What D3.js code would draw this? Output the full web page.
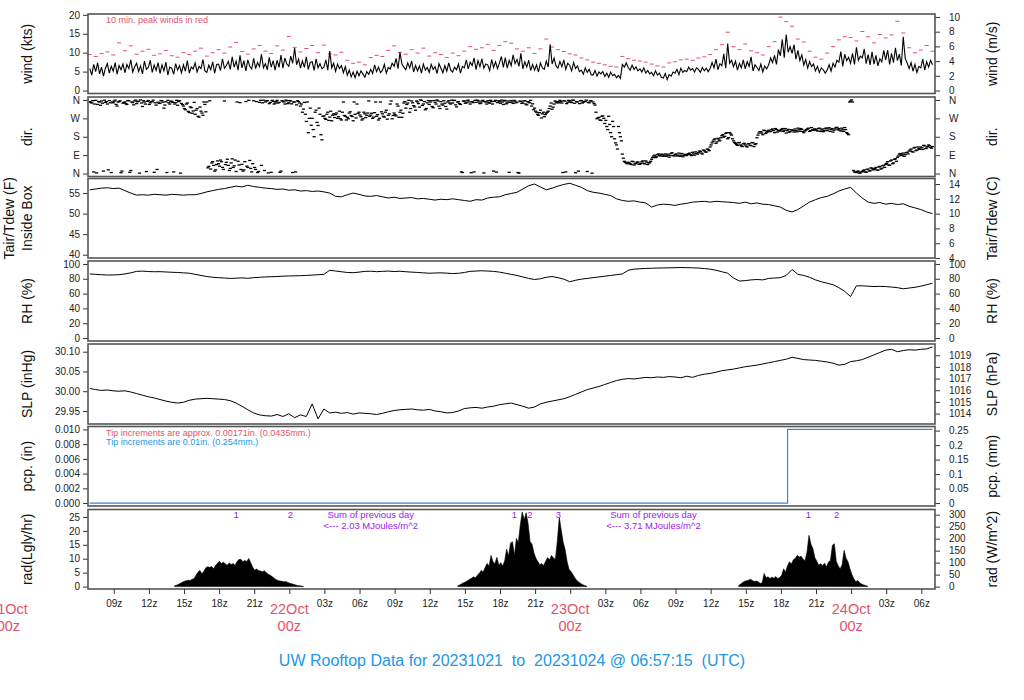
<!DOCTYPE html>
<html>
<head>
<meta charset="utf-8">
<script src="https://cdn.jsdelivr.net/npm/d3@7"></script>
<style>
  body { margin: 0; background: #fff; }
  svg text { font-family: "Liberation Sans", Arial, Helvetica, sans-serif; }
</style>
</head>
<body>
<div id="chart"></div>
<script>
// first sample 2023-10-21 06:57:15 UTC, 10-min and 30-min records
const startTime = Date.UTC(2023, 9, 21, 6, 57, 15);
const day0 = Date.UTC(2023, 9, 21, 0, 0, 0);

// wind speed (kts), every 10 min
const windKts = [
  5.8,4.1,6.9,5.0,7.3,4.4, 6.2,3.8,5.9,7.1,4.6,6.4, 5.1,7.4,4.3,6.6,5.5,7.0, 4.7,6.9,5.8,8.1,4.9,6.3,
  7.2,5.0,6.5,4.4,7.8,5.6, 6.1,8.0,4.8,6.7,5.3,7.4, 4.5,6.8,5.2,7.5,4.1,6.2, 5.9,4.3,7.1,5.4,6.6,4.7,
  6.8,5.1,7.9,4.6,6.2,5.7, 7.3,4.9,6.4,5.8,8.2,5.2, 4.8,6.7,5.5,7.6,4.6,6.9, 7.0,5.3,8.4,5.9,6.6,7.7,
  5.6,8.9,6.2,7.8,5.4,9.3, 6.0,7.9,5.2,8.1,6.4,5.7, 8.5,5.8,7.4,6.3,9.6,6.0, 7.1,5.5,8.8,6.2,7.9,5.4,
  8.0,6.1,9.4,5.9,8.6,7.0, 6.4,9.1,7.2,11.2,6.8,8.3, 5.9,7.8,6.1,8.9,5.6,7.4, 7.6,5.3,8.4,6.0,7.1,5.8,
  6.2,8.1,5.4,10.4,6.0,7.2, 5.1,7.0,5.8,6.6,4.7,6.3, 4.0,5.4,3.6,4.9,3.4,5.1, 3.9,5.2,4.4,3.5,5.0,4.3,
  5.6,4.5,6.8,5.0,6.2,4.7, 5.3,6.9,4.6,6.1,5.7,7.2, 6.4,8.5,5.8,10.1,7.0,6.2, 5.5,7.3,6.0,7.8,4.9,6.6,
  5.2,6.5,4.6,7.0,5.4,6.1, 4.8,6.9,5.6,6.3,4.5,7.1, 5.9,4.7,6.6,5.1,7.3,5.4, 4.9,6.2,5.5,7.0,4.6,6.4,
  6.0,8.1,5.7,7.5,6.6,8.6, 5.5,7.9,6.3,8.4,5.9,7.0, 6.8,5.3,8.2,6.1,7.6,5.8, 7.3,9.0,6.1,8.7,5.9,8.0,
  6.6,9.4,7.1,8.2,6.4,9.8, 5.7,7.6,6.2,8.0,5.3,6.9, 5.4,6.8,4.9,7.3,6.0,5.6, 7.8,6.2,12.2,7.0,8.6,6.5,
  5.9,7.7,6.3,8.1,5.6,7.2, 6.7,5.2,7.4,5.8,6.5,5.0, 5.4,4.3,6.0,4.8,5.6,4.2, 4.1,5.3,3.8,4.9,4.4,5.0,
  3.7,4.6,3.5,4.9,3.9,4.3, 3.4,4.0,3.2,6.9,6.2,7.3, 6.1,5.4,6.7,5.6,6.3,5.2, 5.7,4.9,6.0,4.6,5.3,4.4,
  4.8,3.9,5.2,4.1,4.6,3.5, 3.3,4.5,2.9,4.2,3.8,4.9, 4.6,5.6,4.2,5.9,4.8,5.3, 5.0,6.2,5.4,5.8,4.9,6.0,
  5.6,4.8,6.1,5.2,5.9,5.0, 5.8,7.4,6.0,8.3,5.5,7.1, 6.6,9.7,5.9,12.4,7.2,8.0, 6.3,7.8,5.4,7.2,6.0,8.1,
  5.7,7.6,6.4,8.9,5.2,6.8, 6.1,5.3,7.0,4.9,6.5,5.7, 6.8,8.6,7.4,9.3,6.9,10.8, 9.2,13.5,8.7,14.8,10.1,11.6,
  9.8,12.1,8.3,10.6,7.9,9.4, 6.7,8.2,5.9,7.6,6.3,7.0, 5.2,6.4,4.8,6.0,5.5,4.6, 5.4,6.8,5.1,7.2,6.2,8.0,
  7.5,10.3,6.4,9.6,7.9,8.8, 7.2,9.8,6.9,11.4,8.0,9.1, 8.6,11.0,7.1,9.5,6.8,10.2, 7.0,9.3,6.5,8.4,7.6,10.6,
  8.1,10.7,6.9,9.8,7.4,11.3, 7.9,9.6,6.6,14.2,8.5,7.3, 5.8,7.4,5.1,6.9,4.8,6.4, 6.0,8.3,5.4,7.6,6.2,8.0,
  6.8
];

// 10 min. peak wind (kts), every 30 min
const windPeakKts = [
  9.5,9.0, 9.8,10.2, 9.4,12.6, 10.5,11.8, 9.6,10.4, 10.9,9.3, 9.7,10.6, 9.2,8.8,
  10.0,9.5, 10.4,11.2, 9.1,10.0, 10.8,9.9, 11.5,12.7, 10.3,9.6, 11.0,11.9, 10.4,9.8,
  11.8,10.7, 14.3,11.4, 10.2,11.1, 11.9,10.0, 12.0,9.7, 9.4,10.1, 8.0,7.2, 7.5,6.8,
  8.7,9.3, 9.0,10.6, 11.8,10.1, 9.6,10.8, 9.9,11.2, 9.1,10.0, 9.5,8.7, 9.9,9.2,
  10.4,11.6, 10.9,11.3, 12.2,10.6, 11.9,12.9, 12.5,11.0, 10.4,11.3, 9.8,11.0, 13.6,11.5,
  10.8,10.3, 9.7,9.4, 8.6,8.1, 7.5,7.2, 6.8,6.4, 6.2,9.0, 8.4,8.0, 7.8,7.5,
  7.0,6.5, 6.2,7.3, 7.6,8.1, 8.3,8.0, 8.6,8.9, 9.5,10.8, 12.1,15.4, 11.6,10.8,
  12.3,10.5, 10.0,9.4, 11.6,12.9, 19.4,18.2, 17.0,13.6, 12.8,10.4, 8.8,8.3, 9.9,11.6,
  13.4,14.2, 14.0,13.1, 15.6,14.2, 12.6,14.8, 13.9,14.7, 18.3,15.2, 11.3,10.0, 10.7,11.9,
  10.4
];

// wind direction (deg, 0 = N), every 10 min
const windDirDeg = [
  352,345,8,358,338,350, 355,12,348,340,357,5, 346,359,330,352,4,344, 350,338,356,15,347,355,
  342,354,360,328,350,10, 357,346,352,6,335,349, 344,356,320,351,358,340, 353,8,347,334,356,343,
  330,312,345,298,322,306, 290,318,276,305,285,338, 350,35,22,58,12,44, 48,66,30,355,55,40,
  25,72,38,10,60,347, 45,18,352,30,64,8, 356,20,5,348,40,359, 350,357,342,6,353,345,
  358,348,12,354,340,356, 346,355,5,350,336,352, 330,300,348,255,200,320, 270,180,310,235,290,165,
  282,265,300,276,258,292, 288,270,305,262,350,280, 275,296,284,258,290,340, 300,278,268,292,285,355,
  286,270,298,280,262,350, 292,276,310,285,340,268, 296,282,330,300,275,345, 320,345,300,355,332,310,
  350,325,358,340,312,346, 338,356,322,348,360,330, 352,335,344,315,356,340, 345,358,326,351,338,5,
  355,346,359,340,352,8, 348,357,342,354,3,350, 356,344,352,12,358,347, 351,359,338,355,346,6,
  357,343,354,349,2,352, 345,356,336,350,358,341, 320,300,285,310,292,278, 295,305,330,315,340,350,
  352,358,345,356,8,349, 355,347,358,4,350,342, 357,349,353,10,346,356, 350,335,268,275,260,282,
  245,230,280,200,255,170, 140,230,180,95,60,52, 55,48,60,42,50,57, 46,58,50,62,44,53,
  70,85,78,92,88,95, 84,96,90,80,98,88, 92,86,100,90,82,94, 88,97,92,104,90,99,
  102,108,96,112,105,118, 130,150,165,148,172,160, 185,178,196,170,200,188, 160,148,138,152,135,145,
  140,130,146,136,150,142, 175,198,205,190,210,202, 212,206,218,200,215,209, 208,220,212,198,216,205,
  214,203,210,222,207,216, 200,212,218,206,225,211, 217,208,222,213,205,219, 210,224,215,203,218,226,
  220,208,214,225,200,190, 355,350,8,5,12,3, 10,18,6,22,14,25, 20,30,16,35,26,40,
  45,58,40,66,52,72, 80,95,88,100,92,104, 110,120,105,128,115,122, 130,118,135,125,140,128,
  132
];

// wind direction (deg), the samples 5 min after each of the above
const windDirDegB = [
  348,356,340,3,352,334, 344,359,352,18,346,350, 354,338,350,356,12,348, 342,357,6,350,336,359,
  351,2,345,356,340,353, 338,352,359,346,20,343, 357,349,335,5,346,354, 348,340,358,352,2,337,
  318,340,304,326,295,348, 310,280,325,296,350,302, 28,356,52,40,18,62, 36,58,20,44,70,15,
  52,30,66,350,42,20, 12,58,36,358,25,48, 30,352,10,358,346,15, 355,3,348,358,340,352,
  345,6,356,350,359,342, 357,341,350,8,356,345, 340,315,290,350,270,236, 215,300,250,320,190,280,
  270,290,260,305,285,274, 296,278,268,300,284,262, 268,302,279,350,272,294, 286,262,300,274,296,280,
  295,276,350,288,270,302, 280,300,266,292,355,284, 288,340,275,310,295,352, 338,358,318,346,326,355,
  342,360,333,352,318,357, 350,328,357,340,355,318, 340,356,328,350,345,359, 357,336,350,342,8,354,
  344,356,350,4,347,358, 359,350,345,358,352,340, 348,358,340,353,7,356, 344,350,358,341,355,348,
  350,358,346,5,355,343, 356,340,352,346,330,312, 305,290,298,272,300,288, 300,318,345,325,355,346,
  346,352,5,355,342,358, 350,359,344,352,12,356, 345,352,359,348,355,2, 342,300,272,262,280,270,
  260,215,240,180,230,150, 120,200,160,75,55,48, 52,44,58,48,55,45, 50,62,47,56,52,60,
  78,90,82,96,86,92, 90,84,95,88,102,86, 96,90,84,98,88,92, 94,100,88,96,106,95,
  110,100,115,106,120,112, 140,158,170,155,165,175, 190,182,200,176,194,170, 152,142,150,140,132,148,
  134,145,138,152,132,146, 188,205,198,212,196,206, 205,214,210,220,203,212, 215,206,220,210,202,214,
  210,218,204,214,220,206, 208,216,222,210,214,218, 212,220,206,218,210,223, 218,206,220,212,224,214,
  212,222,206,215,195,350, 360,15,6,10,2,8, 14,8,20,12,28,18, 25,18,32,22,38,30,
  50,42,62,48,70,60, 86,98,92,84,102,96, 115,108,125,112,130,118, 126,138,122,132,136,124
];

// air temperature inside box (F), every 30 min
const tairF = [
  55.8,56.0, 56.2,56.3, 56.1,56.2, 55.6,55.0, 54.5,54.6, 54.5,54.7, 54.6,54.5, 54.7,54.6,
  54.5,54.6, 54.6,54.9, 55.3,55.6, 55.9,56.1, 56.4,56.7, 56.5,56.9, 56.6,56.4, 56.2,56.1,
  55.9,56.0, 55.7,55.8, 55.5,55.6, 55.4,55.5, 55.3,55.0, 54.2,54.1, 54.6,55.0, 54.7,54.3,
  54.2,54.4, 54.1,53.8, 54.0,53.7, 53.8,53.9, 53.6,53.7, 53.5,53.3, 53.5,53.4, 53.6,53.4,
  53.2,53.0, 53.4,53.3, 53.8,54.0, 54.1,54.6, 54.9,55.2, 56.0,56.8, 57.2,56.5, 55.8,56.2,
  56.7,57.1, 57.4,56.9, 56.4,55.6, 55.2,55.0, 54.7,54.4, 53.6,53.2, 53.0,53.1, 52.8,52.6,
  51.6,52.1, 52.3,52.2, 52.0,52.3, 52.5,52.8, 52.9,53.0, 52.8,53.0, 52.9,52.8, 52.7,52.5,
  52.8,52.4, 52.6,52.3, 52.2,51.9, 51.6,50.8, 50.4,51.0, 51.9,52.8, 53.4,53.9, 54.2,54.8,
  55.5,56.0, 56.4,55.0, 53.8,52.8, 52.5,52.7, 52.3,52.5, 52.2,52.4, 51.8,51.4, 51.0,50.4,
  50.0
];

// relative humidity (%), every 30 min
const rhPct = [
  86.5,86.0, 85.5,85.0, 85.2,85.5, 86.5,88.0, 90.0,90.3, 89.8,89.5, 89.6,89.2, 88.8,88.5,
  88.0,87.5, 86.0,84.5, 83.0,82.0, 81.5,81.0, 80.5,80.8, 81.2,80.6, 81.5,82.0, 82.5,82.8,
  83.0,83.5, 83.8,84.0, 84.2,84.5, 85.0,85.5, 86.0,91.5, 90.5,89.5, 88.5,88.2, 89.0,90.0,
  90.2,89.6, 90.0,90.4, 89.8,90.2, 89.5,89.0, 88.5,88.0, 87.5,87.8, 88.0,87.6, 87.0,87.4,
  88.5,90.0, 90.5,90.8, 90.4,90.0, 89.0,87.5, 86.0,84.5, 82.5,80.5, 79.0,80.0, 82.0,83.0,
  81.5,79.5, 76.0,78.0, 79.5,80.5, 81.5,82.5, 83.5,84.5, 85.5,86.5, 91.5,93.0, 93.5,94.0,
  94.2,94.5, 94.6,94.8, 95.0,95.2, 95.0,94.8, 94.5,93.8, 93.0,91.5, 89.5,87.5, 81.0,77.0,
  77.5,78.5, 79.0,78.5, 80.5,81.0, 81.5,84.5, 92.5,86.0, 84.5,82.0, 78.5,76.0, 74.0,72.0,
  68.0,63.0, 56.0,70.5, 70.5,70.0, 69.5,69.8, 69.5,68.8, 68.0,66.5, 67.5,68.5, 70.0,72.0,
  74.0
];

// sea level pressure (inHg), every 30 min
const slpInHg = [
  30.007,30.004, 30.002,30.003, 30.001,30.000, 30.001,29.998, 29.994,29.990, 29.986,29.983, 29.979,29.975, 29.972,29.970,
  29.972,29.977, 29.980,29.981, 29.982,29.981, 29.980,29.979, 29.976,29.970, 29.962,29.953, 29.945,29.940, 29.938,29.937,
  29.941,29.936, 29.943,29.933, 29.940,29.936, 29.968,29.930, 29.955,29.945, 29.947,29.944, 29.946,29.942, 29.945,29.944,
  29.943,29.941, 29.944,29.948, 29.951,29.953, 29.954,29.955, 29.953,29.952, 29.954,29.950, 29.948,29.945, 29.946,29.950,
  29.956,29.958, 29.959,29.957, 29.960,29.962, 29.966,29.968, 29.970,29.966, 29.962,29.957, 29.960,29.968, 29.972,29.975,
  29.978,29.981, 29.986,29.992, 29.998,30.004, 30.008,30.012, 30.017,30.022, 30.027,30.030, 30.032,30.031, 30.033,30.035,
  30.034,30.036, 30.035,30.037, 30.036,30.034, 30.038,30.035, 30.040,30.043, 30.045,30.048, 30.052,30.054, 30.056,30.059,
  30.062,30.064, 30.066,30.069, 30.072,30.075, 30.078,30.081, 30.086,30.083, 30.080,30.079, 30.078,30.076, 30.074,30.071,
  30.066,30.068, 30.075,30.077, 30.080,30.086, 30.092,30.098, 30.104,30.106, 30.100,30.103, 30.105,30.104, 30.106,30.107,
  30.112
];

// accumulated precipitation (in), hours after 21Oct 00z
const pcpHours = [6.95, 66.57, 78.95];
const pcpIn = [0, 0.01, 0.01];

// solar radiation (Lgly/hr), 10-min values for each daylight period
const radStartHours = [14.2, 38.4, 62.4];
const radDay1 = [
  0.3,0.5,0.8,1.2,1.6,1.9, 2.1,2.3,2.2,2.6,2.9,4.1, 5.2,5.8,4.6,5.5,6.8,7.1, 6.9,7.2,6.4,7.6,8.4,9.1,
  8.2,8.8,8.1,7.7,8.5,7.9, 8.3,7.6,9.0,9.7,9.8,8.9, 9.4,9.0,10.1,8.6,7.0,5.9, 6.3,5.8,5.6,5.3,5.7,5.0,
  4.4,4.1,3.6,3.0,2.5,2.2, 2.0,1.9,1.7,1.8,1.5,1.2, 1.0,0.8,0.6,0.4,0.3,0.2,0.1
];
const radDay2 = [
  0.3,0.6,1.0,1.4,1.7,2.1, 2.6,3.0,3.5,3.2,4.1,4.8, 5.8,5.2,6.9,8.3,7.4,11.2, 9.0,8.2,10.5,7.7,8.6,7.4,
  9.2,13.4,11.0,15.6,16.1,11.2, 17.3,15.8,22.1,26.8,24.0,26.5, 22.6,16.2,15.3,12.1,10.2,9.0,
  7.8,8.3,7.6,9.1,10.4,9.6, 11.2,10.3,9.8,16.4,24.9,20.2, 15.9,13.2,9.0,6.2,5.4,4.3, 3.1,2.2,1.6,1.1,0.7,0.4,0.2
];
const radDay3 = [
  0.4,0.9,1.5,1.9,2.1,2.3, 2.6,2.2,1.8,2.0,1.7,1.1, 1.4,4.7,3.2,3.5,2.9,3.4, 3.0,3.6,2.9,3.3,4.1,6.4,
  5.2,7.5,8.9,8.1,9.6,10.2, 11.2,10.6,10.9,9.8,9.3,12.5, 18.4,15.2,13.7,10.4,9.1,7.7, 8.2,7.6,8.4,7.1,8.8,9.4,
  14.8,15.4,9.0,7.5,6.3,7.9, 13.0,10.2,8.9,6.4,4.3,2.8, 1.7,2.2,1.4,0.9,0.6,0.4,0.2
];
const radMarkHours = [19.45, 24.09, 43.24, 44.55, 47.0, 68.34, 70.76];
const radMarkLabels = ["1", "2", "1", "2", "3", "1", "2"];
const radSumHours = [30.96, 55.12];
const radSumLabels = ["<--- 2.03 MJoules/m^2", "<--- 3.71 MJoules/m^2"];

// axis tick values
const windTicks = [0, 5, 10, 15, 20];
const windMsTicks = [0, 2, 4, 6, 8, 10];
const dirTicks = [0, 90, 180, 270, 360];
const dirNames = ["N", "E", "S", "W", "N"];
const tempTicks = [40, 45, 50, 55];
const tempCTicks = [4, 6, 8, 10, 12, 14];
const rhTicks = [0, 20, 40, 60, 80, 100];
const slpTicks = [29.95, 30.00, 30.05, 30.10];
const slpHpaTicks = [1014, 1015, 1016, 1017, 1018, 1019];
const pcpTicks = [0, 0.002, 0.004, 0.006, 0.008, 0.010];
const pcpMmTicks = [0, 0.05, 0.1, 0.15, 0.2, 0.25];
const radTicks = [0, 5, 10, 15, 20, 25];
const radWTicks = [0, 50, 100, 150, 200, 250, 300];

const red = "#DF536B", blue = "#2297E6", purple = "#A020F0";

const svg = d3.select("#chart").append("svg")
    .attr("width", 1024)
    .attr("height", 700)
    .attr("viewBox", [0, 0, 1024, 700]);

const x = d3.scaleUtc()
    .domain([new Date(Date.UTC(2023, 9, 21, 6, 48)), new Date(Date.UTC(2023, 9, 24, 7, 10))])
    .range([88, 935]);

const t10 = i => new Date(startTime + i * 600e3);
const t10b = i => new Date(startTime + 300e3 + i * 600e3);
const t30 = i => new Date(startTime + i * 1800e3);
const atHour = h => new Date(day0 + h * 3600e3);

const panelTop = [14, 97, 178.5, 261, 344, 426.5, 509.5];
const panelBottom = [93.5, 176.5, 258, 341, 424, 506, 589];

const yScale = (k, domain) => d3.scaleLinear().domain(domain).range([panelBottom[k], panelTop[k]]);

const yWind = yScale(0, [-0.78, 20.22]);
const yDir = yScale(1, [-14.4, 374.4]);
const yTemp = yScale(2, [39.2, 58.55]);
const yRh = yScale(3, [-4, 104]);
const ySlp = yScale(4, [29.917, 30.1195]);
const yPcp = yScale(5, [-0.0004, 0.0104]);
const yRad = yScale(6, [-0.86, 27.66]);

// same panels in the other units for the right-hand axes
const conv = (s, f) => s.copy().domain(s.domain().map(f));
const yWindMs = conv(yWind, v => v / 1.94384);
const yTempC = conv(yTemp, v => (v - 32) * 5 / 9);
const ySlpHpa = conv(ySlp, v => v * 33.8639);
const yPcpMm = conv(yPcp, v => v * 25.4);
const yRadW = conv(yRad, v => v * 11.622);

function styleAxis(g) {
  g.select(".domain").remove();
  g.attr("font-size", 10).attr("font-family", null);
  g.selectAll(".tick line").attr("stroke", "#333");
  g.selectAll(".tick text").attr("fill", "#222");
}

function axes(left, leftTicks, leftFmt, right, rightTicks, rightFmt) {
  svg.append("g")
      .attr("transform", "translate(88,0)")
      .call(d3.axisLeft(left).tickValues(leftTicks).tickFormat(leftFmt).tickSize(5).tickPadding(3))
      .call(styleAxis);
  svg.append("g")
      .attr("transform", "translate(935,0)")
      .call(d3.axisRight(right).tickValues(rightTicks).tickFormat(rightFmt).tickSize(5).tickPadding(9))
      .call(styleAxis);
}

function sideLabel(cx, cy, txt) {
  svg.append("text")
      .attr("transform", `translate(${cx},${cy}) rotate(-90)`)
      .attr("text-anchor", "middle")
      .attr("dy", "0.36em")
      .attr("font-size", 14)
      .attr("fill", "#111")
      .text(txt);
}

const mid = k => (panelTop[k] + panelBottom[k]) / 2;

// ---- wind speed
svg.append("g")
    .attr("stroke", red)
    .attr("stroke-width", 1)
  .selectAll("line")
  .data(windPeakKts)
  .join("line")
    .attr("x1", (d, i) => x(t30(i)) - 2)
    .attr("x2", (d, i) => x(t30(i)) + 2)
    .attr("y1", d => yWind(d))
    .attr("y2", d => yWind(d));

svg.append("path")
    .datum(windKts)
    .attr("fill", "none")
    .attr("stroke", "#000")
    .attr("stroke-width", 1.1)
    .attr("d", d3.line().x((d, i) => x(t10(i))).y(d => yWind(d)));

svg.append("text")
    .attr("x", 106).attr("y", 23)
    .attr("font-size", 9).attr("fill", red)
    .text("10 min. peak winds in red");

axes(yWind, windTicks, d3.format("d"), yWindMs, windMsTicks, d3.format("d"));
sideLabel(27, mid(0), "wind (kts)");
sideLabel(992, mid(0), "wind (m/s)");

// ---- wind direction
const dirMarks = svg.append("g")
    .attr("stroke", "#000")
    .attr("stroke-width", 1.3);
[[windDirDeg, t10], [windDirDegB, t10b]].forEach(([vals, tf]) => {
  dirMarks.append("g")
    .selectAll("line")
    .data(vals)
    .join("line")
      .attr("x1", (d, i) => x(tf(i)) - 1.6)
      .attr("x2", (d, i) => x(tf(i)) + 1.6)
      .attr("y1", d => yDir(d))
      .attr("y2", d => yDir(d));
});

const dirFmt = d => dirNames[dirTicks.indexOf(d)];
axes(yDir, dirTicks, dirFmt, yDir, dirTicks, dirFmt);
sideLabel(27, mid(1), "dir.");
sideLabel(992, mid(1), "dir.");

// ---- temperature
svg.append("path")
    .datum(tairF)
    .attr("fill", "none")
    .attr("stroke", "#000")
    .attr("stroke-width", 1)
    .attr("d", d3.line().x((d, i) => x(t30(i))).y(d => yTemp(d)));

axes(yTemp, tempTicks, d3.format("d"), yTempC, tempCTicks, d3.format("d"));
sideLabel(9, mid(2), "Tair/Tdew (F)");
sideLabel(27, mid(2), "Inside Box");
sideLabel(992, mid(2), "Tair/Tdew (C)");

// ---- relative humidity
svg.append("path")
    .datum(rhPct)
    .attr("fill", "none")
    .attr("stroke", "#000")
    .attr("stroke-width", 1)
    .attr("d", d3.line().x((d, i) => x(t30(i))).y(d => yRh(d)));

axes(yRh, rhTicks, d3.format("d"), yRh, rhTicks, d3.format("d"));
sideLabel(27, mid(3), "RH (%)");
sideLabel(992, mid(3), "RH (%)");

// ---- pressure
svg.append("path")
    .datum(slpInHg)
    .attr("fill", "none")
    .attr("stroke", "#000")
    .attr("stroke-width", 1)
    .attr("d", d3.line().x((d, i) => x(t30(i))).y(d => ySlp(d)));

axes(ySlp, slpTicks, d3.format(".2f"), ySlpHpa, slpHpaTicks, d3.format("d"));
sideLabel(27, mid(4), "SLP (inHg)");
sideLabel(992, mid(4), "SLP (hPa)");

// ---- precipitation
svg.append("path")
    .datum(pcpIn)
    .attr("fill", "none")
    .attr("stroke", "#3d85d6")
    .attr("stroke-width", 1.2)
    .attr("d", d3.line().curve(d3.curveStepAfter)
      .x((d, i) => x(atHour(pcpHours[i]))).y(d => yPcp(d)));

svg.append("text")
    .attr("x", 106).attr("y", 436)
    .attr("font-size", 9).attr("fill", red)
    .text("Tip increments are approx. 0.00171in. (0.0435mm.)");
svg.append("text")
    .attr("x", 106).attr("y", 445)
    .attr("font-size", 9).attr("fill", blue)
    .text("Tip increments are 0.01in. (0.254mm.)");

axes(yPcp, pcpTicks, d3.format(".3f"), yPcpMm, pcpMmTicks, d => String(d));
sideLabel(27, mid(5), "pcp. (in)");
sideLabel(992, mid(5), "pcp. (mm)");

// ---- radiation
[radDay1, radDay2, radDay3].forEach((vals, k) => {
  svg.append("path")
      .datum(vals)
      .attr("fill", "#000")
      .attr("stroke", "#000")
      .attr("stroke-width", 0.6)
      .attr("d", d3.area()
        .x((d, i) => x(atHour(radStartHours[k] + i / 6)))
        .y0(yRad(0))
        .y1(d => yRad(d)));
});

svg.append("g")
    .attr("font-size", 9.5).attr("fill", purple).attr("text-anchor", "middle")
  .selectAll("text")
  .data(radMarkLabels)
  .join("text")
    .attr("x", (d, i) => x(atHour(radMarkHours[i])))
    .attr("y", 517.5)
    .text(d => d);

radSumHours.forEach((h, i) => {
  const g = svg.append("g").attr("font-size", 9.5).attr("fill", purple).attr("text-anchor", "middle");
  g.append("text").attr("x", x(atHour(h))).attr("y", 517.5).text("Sum of previous day");
  g.append("text").attr("x", x(atHour(h))).attr("y", 528.5).text(radSumLabels[i]);
});

axes(yRad, radTicks, d3.format("d"), yRadW, radWTicks, d3.format("d"));
sideLabel(27, mid(6), "rad(Lgly/hr)");
sideLabel(992, mid(6), "rad (W/m^2)");

// ---- panel frames
panelTop.forEach((t, k) => {
  svg.append("rect")
      .attr("x", 88).attr("y", t)
      .attr("width", 847).attr("height", panelBottom[k] - t)
      .attr("fill", "none")
      .attr("stroke", "#555")
      .attr("stroke-width", 1.6);
});

// ---- time axis
const hourTicks = d3.utcHour.every(3).range(x.domain()[0], x.domain()[1]);
svg.append("g")
    .attr("transform", `translate(0,${panelBottom[6]})`)
    .call(d3.axisBottom(x).tickValues(hourTicks).tickSize(5).tickPadding(6)
      .tickFormat(d => d.getUTCHours() === 0 ? "" : d3.utcFormat("%Hz")(d)))
    .call(styleAxis);

const days = d3.utcDay.range(new Date(day0), new Date(Date.UTC(2023, 9, 25)));
const dayLabels = svg.append("g")
    .attr("font-size", 14.5).attr("fill", red).attr("text-anchor", "middle");
days.forEach(d => {
  dayLabels.append("text").attr("x", x(d)).attr("y", 614).text(d3.utcFormat("%-d%b")(d));
  dayLabels.append("text").attr("x", x(d)).attr("y", 631).text("00z");
});

// ---- title
svg.append("text")
    .attr("x", 512).attr("y", 665.5)
    .attr("text-anchor", "middle")
    .attr("font-size", 16)
    .attr("fill", blue)
    .style("white-space", "pre")
    .text("UW Rooftop Data for 20231021  to  20231024 @ 06:57:15  (UTC)");
</script>
</body>
</html>
